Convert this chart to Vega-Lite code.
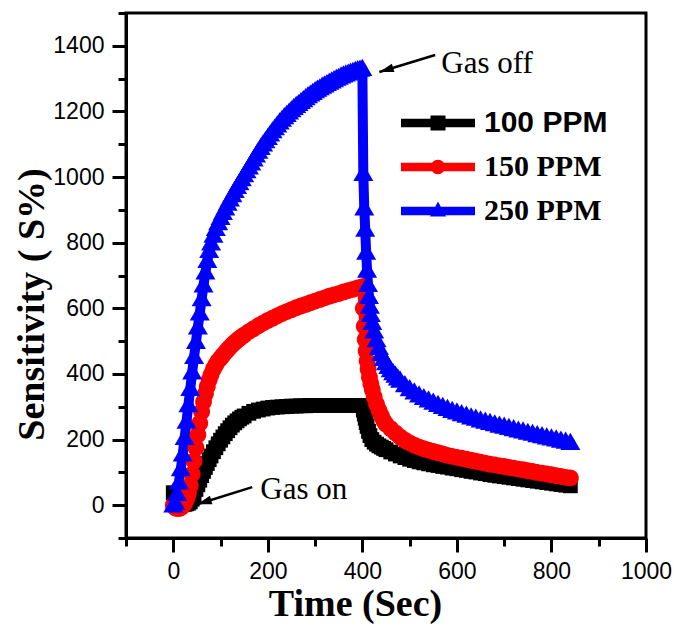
{
  "$schema": "https://vega.github.io/schema/vega-lite/v6.json",
  "width": 520,
  "height": 525,
  "autosize": {"type": "none"},
  "padding": {"left": 126, "top": 13, "right": 30, "bottom": 99},
  "background": "white",
  "config": {
    "view": {"stroke": "black", "strokeWidth": 3},
    "axis": {"grid": false}
  },
  "resolve": {"legend": {"color": "independent", "shape": "independent"}, "axis": {"y": "independent"}},
  "datasets": {
    "response": [
      {"ppm":"100 PPM","t":0,"s":38},{"ppm":"100 PPM","t":4,"s":8},{"ppm":"100 PPM","t":8,"s":3},{"ppm":"100 PPM","t":12,"s":2},{"ppm":"100 PPM","t":16,"s":2},{"ppm":"100 PPM","t":20,"s":2},{"ppm":"100 PPM","t":24,"s":3},{"ppm":"100 PPM","t":28,"s":4},{"ppm":"100 PPM","t":32,"s":6},{"ppm":"100 PPM","t":36,"s":10},{"ppm":"100 PPM","t":40,"s":18},{"ppm":"100 PPM","t":44,"s":32},{"ppm":"100 PPM","t":48,"s":48},{"ppm":"100 PPM","t":52,"s":62},{"ppm":"100 PPM","t":56,"s":76},{"ppm":"100 PPM","t":60,"s":90},{"ppm":"100 PPM","t":64,"s":103},{"ppm":"100 PPM","t":68,"s":115},{"ppm":"100 PPM","t":72,"s":127},{"ppm":"100 PPM","t":76,"s":139},{"ppm":"100 PPM","t":80,"s":150},{"ppm":"100 PPM","t":85,"s":163},{"ppm":"100 PPM","t":90,"s":175},{"ppm":"100 PPM","t":95,"s":187},{"ppm":"100 PPM","t":100,"s":198},{"ppm":"100 PPM","t":105,"s":208},{"ppm":"100 PPM","t":110,"s":218},{"ppm":"100 PPM","t":115,"s":227},{"ppm":"100 PPM","t":120,"s":236},{"ppm":"100 PPM","t":125,"s":244},{"ppm":"100 PPM","t":130,"s":251},{"ppm":"100 PPM","t":135,"s":257},{"ppm":"100 PPM","t":140,"s":263},{"ppm":"100 PPM","t":145,"s":268},{"ppm":"100 PPM","t":150,"s":272},{"ppm":"100 PPM","t":160,"s":280},{"ppm":"100 PPM","t":170,"s":286},{"ppm":"100 PPM","t":180,"s":290},{"ppm":"100 PPM","t":190,"s":293},{"ppm":"100 PPM","t":200,"s":296},{"ppm":"100 PPM","t":210,"s":298},{"ppm":"100 PPM","t":220,"s":299},{"ppm":"100 PPM","t":230,"s":300},{"ppm":"100 PPM","t":240,"s":301},{"ppm":"100 PPM","t":250,"s":302},{"ppm":"100 PPM","t":260,"s":302},{"ppm":"100 PPM","t":270,"s":303},{"ppm":"100 PPM","t":280,"s":303},{"ppm":"100 PPM","t":290,"s":304},{"ppm":"100 PPM","t":300,"s":304},{"ppm":"100 PPM","t":310,"s":304},{"ppm":"100 PPM","t":320,"s":304},{"ppm":"100 PPM","t":330,"s":304},{"ppm":"100 PPM","t":340,"s":304},{"ppm":"100 PPM","t":350,"s":304},{"ppm":"100 PPM","t":360,"s":304},{"ppm":"100 PPM","t":370,"s":304},{"ppm":"100 PPM","t":380,"s":304},{"ppm":"100 PPM","t":390,"s":304},{"ppm":"100 PPM","t":400,"s":304},{"ppm":"100 PPM","t":402,"s":290},{"ppm":"100 PPM","t":404,"s":278},{"ppm":"100 PPM","t":406,"s":265},{"ppm":"100 PPM","t":408,"s":252},{"ppm":"100 PPM","t":410,"s":240},{"ppm":"100 PPM","t":413,"s":225},{"ppm":"100 PPM","t":416,"s":212},{"ppm":"100 PPM","t":420,"s":200},{"ppm":"100 PPM","t":425,"s":192},{"ppm":"100 PPM","t":430,"s":186},{"ppm":"100 PPM","t":435,"s":181},{"ppm":"100 PPM","t":440,"s":177},{"ppm":"100 PPM","t":445,"s":173},{"ppm":"100 PPM","t":450,"s":169},{"ppm":"100 PPM","t":460,"s":162},{"ppm":"100 PPM","t":470,"s":156},{"ppm":"100 PPM","t":480,"s":150},{"ppm":"100 PPM","t":490,"s":145},{"ppm":"100 PPM","t":500,"s":140},{"ppm":"100 PPM","t":510,"s":136},{"ppm":"100 PPM","t":520,"s":132},{"ppm":"100 PPM","t":530,"s":129},{"ppm":"100 PPM","t":540,"s":126},{"ppm":"100 PPM","t":550,"s":123},{"ppm":"100 PPM","t":560,"s":121},{"ppm":"100 PPM","t":570,"s":118},{"ppm":"100 PPM","t":580,"s":116},{"ppm":"100 PPM","t":590,"s":113},{"ppm":"100 PPM","t":600,"s":111},{"ppm":"100 PPM","t":610,"s":108},{"ppm":"100 PPM","t":620,"s":106},{"ppm":"100 PPM","t":630,"s":103},{"ppm":"100 PPM","t":640,"s":101},{"ppm":"100 PPM","t":650,"s":98},{"ppm":"100 PPM","t":660,"s":96},{"ppm":"100 PPM","t":670,"s":93},{"ppm":"100 PPM","t":680,"s":91},{"ppm":"100 PPM","t":690,"s":89},{"ppm":"100 PPM","t":700,"s":87},{"ppm":"100 PPM","t":710,"s":85},{"ppm":"100 PPM","t":720,"s":83},{"ppm":"100 PPM","t":730,"s":81},{"ppm":"100 PPM","t":740,"s":79},{"ppm":"100 PPM","t":750,"s":77},{"ppm":"100 PPM","t":760,"s":75},{"ppm":"100 PPM","t":770,"s":73},{"ppm":"100 PPM","t":780,"s":71},{"ppm":"100 PPM","t":790,"s":69},{"ppm":"100 PPM","t":800,"s":67},{"ppm":"100 PPM","t":810,"s":65},{"ppm":"100 PPM","t":820,"s":63},{"ppm":"100 PPM","t":830,"s":61},{"ppm":"100 PPM","t":840,"s":59},
      {"ppm":"150 PPM","t":0,"s":0},{"ppm":"150 PPM","t":4,"s":-8},{"ppm":"150 PPM","t":8,"s":-10},{"ppm":"150 PPM","t":12,"s":-10},{"ppm":"150 PPM","t":16,"s":-8},{"ppm":"150 PPM","t":20,"s":-3},{"ppm":"150 PPM","t":24,"s":5},{"ppm":"150 PPM","t":28,"s":18},{"ppm":"150 PPM","t":32,"s":35},{"ppm":"150 PPM","t":36,"s":60},{"ppm":"150 PPM","t":40,"s":95},{"ppm":"150 PPM","t":44,"s":135},{"ppm":"150 PPM","t":48,"s":175},{"ppm":"150 PPM","t":52,"s":215},{"ppm":"150 PPM","t":56,"s":250},{"ppm":"150 PPM","t":60,"s":285},{"ppm":"150 PPM","t":64,"s":315},{"ppm":"150 PPM","t":68,"s":340},{"ppm":"150 PPM","t":72,"s":362},{"ppm":"150 PPM","t":76,"s":382},{"ppm":"150 PPM","t":80,"s":398},{"ppm":"150 PPM","t":85,"s":415},{"ppm":"150 PPM","t":90,"s":428},{"ppm":"150 PPM","t":95,"s":440},{"ppm":"150 PPM","t":100,"s":448},{"ppm":"150 PPM","t":105,"s":457},{"ppm":"150 PPM","t":110,"s":466},{"ppm":"150 PPM","t":115,"s":474},{"ppm":"150 PPM","t":120,"s":482},{"ppm":"150 PPM","t":125,"s":489},{"ppm":"150 PPM","t":130,"s":496},{"ppm":"150 PPM","t":135,"s":502},{"ppm":"150 PPM","t":140,"s":508},{"ppm":"150 PPM","t":145,"s":514},{"ppm":"150 PPM","t":150,"s":519},{"ppm":"150 PPM","t":160,"s":529},{"ppm":"150 PPM","t":170,"s":538},{"ppm":"150 PPM","t":180,"s":547},{"ppm":"150 PPM","t":190,"s":555},{"ppm":"150 PPM","t":200,"s":563},{"ppm":"150 PPM","t":210,"s":570},{"ppm":"150 PPM","t":220,"s":577},{"ppm":"150 PPM","t":230,"s":584},{"ppm":"150 PPM","t":240,"s":590},{"ppm":"150 PPM","t":250,"s":596},{"ppm":"150 PPM","t":260,"s":602},{"ppm":"150 PPM","t":270,"s":607},{"ppm":"150 PPM","t":280,"s":612},{"ppm":"150 PPM","t":290,"s":617},{"ppm":"150 PPM","t":300,"s":622},{"ppm":"150 PPM","t":310,"s":627},{"ppm":"150 PPM","t":320,"s":632},{"ppm":"150 PPM","t":330,"s":637},{"ppm":"150 PPM","t":340,"s":641},{"ppm":"150 PPM","t":350,"s":645},{"ppm":"150 PPM","t":360,"s":650},{"ppm":"150 PPM","t":370,"s":654},{"ppm":"150 PPM","t":380,"s":658},{"ppm":"150 PPM","t":390,"s":662},{"ppm":"150 PPM","t":400,"s":666},{"ppm":"150 PPM","t":402,"s":600},{"ppm":"150 PPM","t":404,"s":545},{"ppm":"150 PPM","t":406,"s":505},{"ppm":"150 PPM","t":408,"s":470},{"ppm":"150 PPM","t":410,"s":440},{"ppm":"150 PPM","t":412,"s":415},{"ppm":"150 PPM","t":415,"s":390},{"ppm":"150 PPM","t":418,"s":370},{"ppm":"150 PPM","t":421,"s":352},{"ppm":"150 PPM","t":425,"s":330},{"ppm":"150 PPM","t":430,"s":308},{"ppm":"150 PPM","t":435,"s":290},{"ppm":"150 PPM","t":440,"s":273},{"ppm":"150 PPM","t":445,"s":258},{"ppm":"150 PPM","t":450,"s":247},{"ppm":"150 PPM","t":460,"s":233},{"ppm":"150 PPM","t":470,"s":220},{"ppm":"150 PPM","t":480,"s":208},{"ppm":"150 PPM","t":490,"s":198},{"ppm":"150 PPM","t":500,"s":190},{"ppm":"150 PPM","t":510,"s":183},{"ppm":"150 PPM","t":520,"s":177},{"ppm":"150 PPM","t":530,"s":172},{"ppm":"150 PPM","t":540,"s":168},{"ppm":"150 PPM","t":550,"s":164},{"ppm":"150 PPM","t":560,"s":160},{"ppm":"150 PPM","t":570,"s":156},{"ppm":"150 PPM","t":580,"s":152},{"ppm":"150 PPM","t":590,"s":149},{"ppm":"150 PPM","t":600,"s":146},{"ppm":"150 PPM","t":610,"s":143},{"ppm":"150 PPM","t":620,"s":140},{"ppm":"150 PPM","t":630,"s":137},{"ppm":"150 PPM","t":640,"s":134},{"ppm":"150 PPM","t":650,"s":131},{"ppm":"150 PPM","t":660,"s":128},{"ppm":"150 PPM","t":670,"s":125},{"ppm":"150 PPM","t":680,"s":123},{"ppm":"150 PPM","t":690,"s":120},{"ppm":"150 PPM","t":700,"s":118},{"ppm":"150 PPM","t":710,"s":115},{"ppm":"150 PPM","t":720,"s":113},{"ppm":"150 PPM","t":730,"s":110},{"ppm":"150 PPM","t":740,"s":108},{"ppm":"150 PPM","t":750,"s":105},{"ppm":"150 PPM","t":760,"s":103},{"ppm":"150 PPM","t":770,"s":100},{"ppm":"150 PPM","t":780,"s":98},{"ppm":"150 PPM","t":790,"s":95},{"ppm":"150 PPM","t":800,"s":93},{"ppm":"150 PPM","t":810,"s":90},{"ppm":"150 PPM","t":820,"s":88},{"ppm":"150 PPM","t":830,"s":85},{"ppm":"150 PPM","t":840,"s":83},
      {"ppm":"250 PPM","t":0,"s":0},{"ppm":"250 PPM","t":4,"s":8},{"ppm":"250 PPM","t":8,"s":35},{"ppm":"250 PPM","t":12,"s":70},{"ppm":"250 PPM","t":16,"s":110},{"ppm":"250 PPM","t":20,"s":155},{"ppm":"250 PPM","t":24,"s":205},{"ppm":"250 PPM","t":28,"s":255},{"ppm":"250 PPM","t":32,"s":305},{"ppm":"250 PPM","t":36,"s":355},{"ppm":"250 PPM","t":40,"s":405},{"ppm":"250 PPM","t":44,"s":452},{"ppm":"250 PPM","t":48,"s":498},{"ppm":"250 PPM","t":52,"s":542},{"ppm":"250 PPM","t":56,"s":585},{"ppm":"250 PPM","t":60,"s":628},{"ppm":"250 PPM","t":64,"s":670},{"ppm":"250 PPM","t":68,"s":710},{"ppm":"250 PPM","t":72,"s":745},{"ppm":"250 PPM","t":76,"s":775},{"ppm":"250 PPM","t":80,"s":798},{"ppm":"250 PPM","t":85,"s":822},{"ppm":"250 PPM","t":90,"s":842},{"ppm":"250 PPM","t":95,"s":860},{"ppm":"250 PPM","t":100,"s":876},{"ppm":"250 PPM","t":105,"s":891},{"ppm":"250 PPM","t":110,"s":905},{"ppm":"250 PPM","t":115,"s":919},{"ppm":"250 PPM","t":120,"s":932},{"ppm":"250 PPM","t":125,"s":945},{"ppm":"250 PPM","t":130,"s":958},{"ppm":"250 PPM","t":135,"s":970},{"ppm":"250 PPM","t":140,"s":982},{"ppm":"250 PPM","t":145,"s":994},{"ppm":"250 PPM","t":150,"s":1006},{"ppm":"250 PPM","t":155,"s":1018},{"ppm":"250 PPM","t":160,"s":1030},{"ppm":"250 PPM","t":165,"s":1042},{"ppm":"250 PPM","t":170,"s":1054},{"ppm":"250 PPM","t":175,"s":1066},{"ppm":"250 PPM","t":180,"s":1078},{"ppm":"250 PPM","t":185,"s":1089},{"ppm":"250 PPM","t":190,"s":1100},{"ppm":"250 PPM","t":195,"s":1110},{"ppm":"250 PPM","t":200,"s":1120},{"ppm":"250 PPM","t":205,"s":1130},{"ppm":"250 PPM","t":210,"s":1140},{"ppm":"250 PPM","t":215,"s":1149},{"ppm":"250 PPM","t":220,"s":1158},{"ppm":"250 PPM","t":225,"s":1167},{"ppm":"250 PPM","t":230,"s":1175},{"ppm":"250 PPM","t":235,"s":1183},{"ppm":"250 PPM","t":240,"s":1190},{"ppm":"250 PPM","t":245,"s":1197},{"ppm":"250 PPM","t":250,"s":1204},{"ppm":"250 PPM","t":255,"s":1211},{"ppm":"250 PPM","t":260,"s":1217},{"ppm":"250 PPM","t":265,"s":1223},{"ppm":"250 PPM","t":270,"s":1229},{"ppm":"250 PPM","t":275,"s":1235},{"ppm":"250 PPM","t":280,"s":1241},{"ppm":"250 PPM","t":285,"s":1247},{"ppm":"250 PPM","t":290,"s":1252},{"ppm":"250 PPM","t":295,"s":1257},{"ppm":"250 PPM","t":300,"s":1262},{"ppm":"250 PPM","t":305,"s":1267},{"ppm":"250 PPM","t":310,"s":1271},{"ppm":"250 PPM","t":315,"s":1276},{"ppm":"250 PPM","t":320,"s":1280},{"ppm":"250 PPM","t":325,"s":1284},{"ppm":"250 PPM","t":330,"s":1288},{"ppm":"250 PPM","t":335,"s":1292},{"ppm":"250 PPM","t":340,"s":1296},{"ppm":"250 PPM","t":345,"s":1300},{"ppm":"250 PPM","t":350,"s":1303},{"ppm":"250 PPM","t":355,"s":1307},{"ppm":"250 PPM","t":360,"s":1310},{"ppm":"250 PPM","t":365,"s":1313},{"ppm":"250 PPM","t":370,"s":1316},{"ppm":"250 PPM","t":375,"s":1319},{"ppm":"250 PPM","t":380,"s":1321},{"ppm":"250 PPM","t":385,"s":1324},{"ppm":"250 PPM","t":390,"s":1326},{"ppm":"250 PPM","t":395,"s":1328},{"ppm":"250 PPM","t":400,"s":1330},{"ppm":"250 PPM","t":402,"s":1010},{"ppm":"250 PPM","t":404,"s":905},{"ppm":"250 PPM","t":406,"s":840},{"ppm":"250 PPM","t":408,"s":770},{"ppm":"250 PPM","t":410,"s":715},{"ppm":"250 PPM","t":412,"s":672},{"ppm":"250 PPM","t":414,"s":635},{"ppm":"250 PPM","t":416,"s":605},{"ppm":"250 PPM","t":418,"s":580},{"ppm":"250 PPM","t":421,"s":556},{"ppm":"250 PPM","t":425,"s":530},{"ppm":"250 PPM","t":430,"s":503},{"ppm":"250 PPM","t":435,"s":480},{"ppm":"250 PPM","t":440,"s":461},{"ppm":"250 PPM","t":445,"s":446},{"ppm":"250 PPM","t":450,"s":433},{"ppm":"250 PPM","t":455,"s":422},{"ppm":"250 PPM","t":460,"s":412},{"ppm":"250 PPM","t":465,"s":403},{"ppm":"250 PPM","t":470,"s":395},{"ppm":"250 PPM","t":475,"s":387},{"ppm":"250 PPM","t":480,"s":380},{"ppm":"250 PPM","t":490,"s":366},{"ppm":"250 PPM","t":500,"s":354},{"ppm":"250 PPM","t":510,"s":344},{"ppm":"250 PPM","t":520,"s":335},{"ppm":"250 PPM","t":530,"s":327},{"ppm":"250 PPM","t":540,"s":320},{"ppm":"250 PPM","t":550,"s":313},{"ppm":"250 PPM","t":560,"s":306},{"ppm":"250 PPM","t":570,"s":300},{"ppm":"250 PPM","t":580,"s":294},{"ppm":"250 PPM","t":590,"s":288},{"ppm":"250 PPM","t":600,"s":283},{"ppm":"250 PPM","t":610,"s":278},{"ppm":"250 PPM","t":620,"s":273},{"ppm":"250 PPM","t":630,"s":268},{"ppm":"250 PPM","t":640,"s":264},{"ppm":"250 PPM","t":650,"s":259},{"ppm":"250 PPM","t":660,"s":255},{"ppm":"250 PPM","t":670,"s":251},{"ppm":"250 PPM","t":680,"s":247},{"ppm":"250 PPM","t":690,"s":243},{"ppm":"250 PPM","t":700,"s":240},{"ppm":"250 PPM","t":710,"s":236},{"ppm":"250 PPM","t":720,"s":232},{"ppm":"250 PPM","t":730,"s":228},{"ppm":"250 PPM","t":740,"s":225},{"ppm":"250 PPM","t":750,"s":221},{"ppm":"250 PPM","t":760,"s":218},{"ppm":"250 PPM","t":770,"s":214},{"ppm":"250 PPM","t":780,"s":211},{"ppm":"250 PPM","t":790,"s":207},{"ppm":"250 PPM","t":800,"s":204},{"ppm":"250 PPM","t":810,"s":201},{"ppm":"250 PPM","t":820,"s":197},{"ppm":"250 PPM","t":830,"s":194},{"ppm":"250 PPM","t":840,"s":190}
    ],
    "notes": [
      {"note":"Gas off","tx":567,"ty":1317,"ax":554,"ay":1372,"hx":436,"hy":1320},
      {"note":"Gas on","tx":184,"ty":18,"ax":167,"ay":55,"hx":51,"hy":3}
    ]
  },
  "layer": [
    {
      "data": {"name": "response"},
      "mark": {"type": "line", "strokeWidth": 10, "strokeJoin": "round", "strokeCap": "round"},
      "encoding": {
        "x": {
          "field": "t", "type": "quantitative", "title": "Time (Sec)",
          "scale": {"domain": [-100, 1000], "nice": false, "zero": false},
          "axis": {
            "values": [-100, 0, 100, 200, 300, 400, 500, 600, 700, 800, 900, 1000],
            "format": "d",
            "labelExpr": "datum.value % 200 === 0 ? datum.label : ''",
            "labelFlush": false, "labelOverlap": false,
            "domainColor": "black", "domainWidth": 3,
            "tickColor": "black", "tickWidth": 3,
            "tickSize": {"expr": "(datum.value % 200 !== 0 ? 8 : 14)"},
            "labelFont": "Liberation Sans", "labelFontSize": 23, "labelColor": "black", "labelPadding": 8,
            "titleFont": "Liberation Serif", "titleFontSize": 38, "titleFontWeight": "bold", "titleColor": "black",
            "titleX": 229, "titleY": 77, "titleBaseline": "alphabetic", "titleAlign": "center"
          }
        },
        "y": {
          "field": "s", "type": "quantitative", "title": "Sensitivity ( S%)",
          "scale": {"domain": [-100, 1500], "nice": false, "zero": false},
          "axis": {
            "orient": "left",
            "values": [0, 200, 400, 600, 800, 1000, 1200, 1400],
            "format": "d",
            "labelFlush": false, "labelOverlap": false,
            "domainColor": "black", "domainWidth": 3,
            "tickColor": "black", "tickWidth": 3, "tickSize": 14,
            "labelFont": "Liberation Sans", "labelFontSize": 23, "labelColor": "black", "labelPadding": 8,
            "titleFont": "Liberation Serif", "titleFontSize": 38, "titleFontWeight": "bold", "titleColor": "black",
            "titleAngle": 270, "titleX": -83, "titleY": 291, "titleBaseline": "alphabetic", "titleAlign": "center"
          }
        },
        "color": {
          "field": "ppm", "type": "nominal",
          "scale": {"domain": ["100 PPM", "150 PPM", "250 PPM"], "range": ["#000000", "#ff0000", "#0000ff"]},
          "legend": null
        }
      }
    },
    {
      "data": {"name": "response"},
      "mark": {"type": "point", "filled": true, "opacity": 1, "size": 400, "strokeWidth": 0},
      "encoding": {
        "x": {"field": "t", "type": "quantitative", "title": "Time (Sec)"},
        "y": {
          "field": "s", "type": "quantitative",
          "axis": {
            "orient": "left",
            "values": [-100, 100, 300, 500, 700, 900, 1100, 1300, 1500],
            "title": null, "labels": false, "domain": false, "grid": false,
            "tickColor": "black", "tickWidth": 3, "tickSize": 8
          }
        },
        "shape": {
          "field": "ppm", "type": "nominal",
          "scale": {
            "domain": ["100 PPM", "150 PPM", "250 PPM"],
            "range": [
              "M-0.74,-0.74H0.74V0.74H-0.74Z",
              "M-0.84,0A0.84,0.84 0 1,1 0.84,0A0.84,0.84 0 1,1 -0.84,0Z",
              "M0,-1L1,0.72H-1Z"
            ]
          },
          "legend": null
        },
        "color": {"field": "ppm", "type": "nominal", "legend": null}
      }
    },
    {
      "data": {"name": "response"},
      "mark": {"type": "point", "filled": true, "opacity": 0, "size": 400, "strokeWidth": 0},
      "encoding": {
        "x": {"field": "t", "type": "quantitative", "title": "Time (Sec)"},
        "y": {"field": "s", "type": "quantitative", "axis": null},
        "color": {
          "field": "ppm", "type": "nominal",
          "legend": {
            "title": null,
            "orient": "none",
            "legendX": 297,
            "legendY": 95,
            "padding": 0,
            "rowPadding": 14,
            "symbolSize": 400,
            "symbolStrokeWidth": 0,
            "symbolOpacity": 1,
            "symbolType": {"expr": "datum.value === '100 PPM' ? 'M-3.7,-0.42H3.7V0.42H-3.7Z M-0.75,-0.75H0.75V0.75H-0.75Z' : datum.value === '150 PPM' ? 'M-3.7,-0.42H3.7V0.42H-3.7Z M-0.72,0A0.72,0.72 0 1,1 0.72,0A0.72,0.72 0 1,1 -0.72,0Z' : 'M-3.7,-0.42H3.7V0.42H-3.7Z M0,-0.95L0.8,0.55H-0.8Z'"},
            "labelFont": {"expr": "datum.value === '100 PPM' ? 'Liberation Sans' : 'Liberation Serif'"},
            "labelFontSize": 30,
            "labelFontWeight": "bold",
            "labelColor": "black",
            "labelOffset": 31,
            "labelLimit": 300
          }
        }
      }
    },
    {
      "data": {"name": "notes"},
      "mark": {"type": "rule", "color": "black", "strokeWidth": 2.5},
      "encoding": {
        "x": {"field": "ax", "type": "quantitative", "title": "Time (Sec)"},
        "y": {"field": "ay", "type": "quantitative", "axis": null},
        "x2": {"field": "hx"},
        "y2": {"field": "hy"}
      }
    },
    {
      "data": {"name": "notes"},
      "mark": {"type": "point", "filled": true, "color": "black", "opacity": 1, "size": 256, "strokeWidth": 0, "angle": 253, "shape": "M0,0L0.55,1.8L-0.55,1.8Z"},
      "encoding": {
        "x": {"field": "hx", "type": "quantitative", "title": "Time (Sec)"},
        "y": {"field": "hy", "type": "quantitative", "axis": null}
      }
    },
    {
      "data": {"name": "notes"},
      "mark": {"type": "text", "font": "Liberation Serif", "fontSize": 31, "align": "left", "baseline": "alphabetic", "color": "black"},
      "encoding": {
        "x": {"field": "tx", "type": "quantitative", "title": "Time (Sec)"},
        "y": {"field": "ty", "type": "quantitative", "axis": null},
        "text": {"field": "note"}
      }
    }
  ]
}
